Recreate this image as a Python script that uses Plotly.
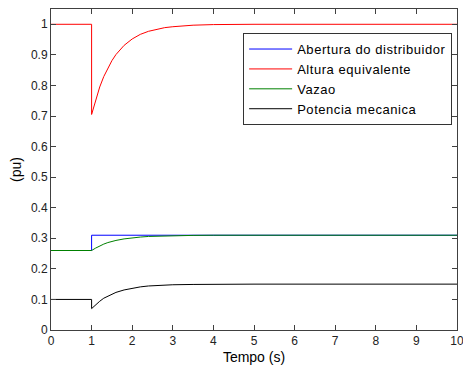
import plotly.graph_objects as go

# time samples (s)
t_step = [0, 1, 1, 1.1, 1.2, 1.3, 1.4, 1.5, 1.6, 1.8, 2.0, 2.2, 2.4, 2.6, 2.8, 3.0, 3.5, 4.0, 5.0, 10.0]

t_abertura = [0, 1, 1, 10]
abertura = [0.26, 0.26, 0.31, 0.31]

altura = [1.0, 1.0, 0.705, 0.754, 0.795, 0.829, 0.857, 0.881, 0.901, 0.931, 0.952,
          0.967, 0.977, 0.984, 0.989, 0.992, 0.997, 0.999, 1.0, 1.0]

vazao = [0.26, 0.26, 0.26, 0.268, 0.275, 0.281, 0.286, 0.290, 0.293, 0.298, 0.302,
         0.304, 0.306, 0.307, 0.308, 0.309, 0.3095, 0.31, 0.31, 0.31]

potencia = [0.10, 0.10, 0.07, 0.083, 0.094, 0.104, 0.111, 0.118, 0.123, 0.131, 0.137,
            0.141, 0.144, 0.146, 0.147, 0.148, 0.149, 0.15, 0.15, 0.15]

series_names = ["Abertura do distribuidor", "Altura equivalente", "Vazao", "Potencia mecanica"]

x_ticks = list(range(0, 11))
y_ticks = [0, 0.1, 0.2, 0.3, 0.4, 0.5, 0.6, 0.7, 0.8, 0.9, 1]
y_tick_labels = ["0", "0.1", "0.2", "0.3", "0.4", "0.5", "0.6", "0.7", "0.8", "0.9", "1"]


def legend_label(s):
    return '<span style="letter-spacing:0.55px">' + s + '</span>'


fig = go.Figure()
fig.add_trace(go.Scatter(x=t_abertura, y=abertura, mode="lines", name=legend_label(series_names[0]),
                         line=dict(color="#0000ff", width=1)))
fig.add_trace(go.Scatter(x=t_step, y=altura, mode="lines", name=legend_label(series_names[1]),
                         line=dict(color="#ff0000", width=1)))
fig.add_trace(go.Scatter(x=t_step, y=vazao, mode="lines", name=legend_label(series_names[2]),
                         line=dict(color="#008000", width=1)))
fig.add_trace(go.Scatter(x=t_step, y=potencia, mode="lines", name=legend_label(series_names[3]),
                         line=dict(color="#000000", width=1)))

axis_common = dict(showline=True, linecolor="#404040", linewidth=1, mirror="ticks",
                   ticks="inside", ticklen=5, tickcolor="#404040", showgrid=False,
                   zeroline=False, automargin=False, ticklabeloverflow="allow",
                   tickfont=dict(family="Liberation Sans, Arial", size=12, color="#222"))

fig.update_layout(
    width=463, height=369,
    margin=dict(l=51, r=6, t=9, b=39),
    paper_bgcolor="white", plot_bgcolor="white",
    font=dict(family="Liberation Sans, Arial", size=12, color="#000"),
    xaxis=dict(range=[0, 10], tickvals=x_ticks,
               title=dict(text="Tempo (s)", font=dict(size=14), standoff=4), **axis_common),
    yaxis=dict(range=[0, 1.05], tickvals=y_ticks, ticktext=y_tick_labels,
               title=dict(text="(pu)", font=dict(size=14), standoff=6), **axis_common),
    legend=dict(x=0.988, y=0.925, xanchor="right", yanchor="top",
                bgcolor="white", bordercolor="#333", borderwidth=1,
                font=dict(size=13), tracegroupgap=0, itemwidth=43),
    showlegend=True,
)

fig.write_html("out.html", config={"displayModeBar": False},
               post_script="document.body.style.margin='0';")
